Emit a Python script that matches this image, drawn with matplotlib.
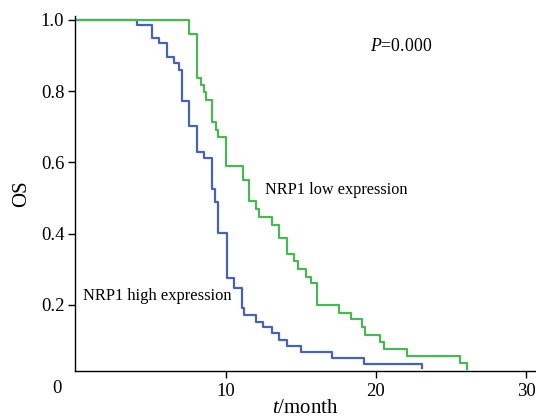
"""Kaplan-Meier style OS curves for NRP1 high / low expression."""

import matplotlib

matplotlib.use("Agg")
import matplotlib.pyplot as plt

# step curves (time in months, survival after the step)
high_t = [0, 4.08, 5.08, 5.58, 6.07, 6.58, 6.87, 7.06, 7.56, 8.06, 8.58, 9.08, 9.29,
          9.51, 10.07, 10.57, 11.06, 11.22, 12.0, 12.5, 13.06, 13.57, 14.06, 15.01,
          17.05, 19.22, 23.04]
high_s = [1.0, 0.985, 0.948, 0.934, 0.895, 0.880, 0.859, 0.772, 0.701, 0.630, 0.613,
          0.526, 0.490, 0.403, 0.277, 0.247, 0.191, 0.172, 0.153, 0.139, 0.121, 0.102,
          0.085, 0.069, 0.050, 0.034, 0.022]

low_t = [0, 7.58, 8.07, 8.39, 8.56, 8.66, 9.06, 9.35, 9.49, 10.02, 11.15, 11.57, 12.04,
         12.25, 13.06, 13.57, 14.06, 14.54, 14.84, 15.36, 15.68, 16.05, 17.56, 18.36,
         19.07, 19.25, 20.27, 20.51, 22.04, 25.61, 26.03]
low_s = [1.0, 0.960, 0.836, 0.817, 0.796, 0.776, 0.712, 0.692, 0.672, 0.590, 0.550,
         0.493, 0.468, 0.446, 0.424, 0.387, 0.343, 0.322, 0.300, 0.279, 0.261, 0.199,
         0.178, 0.160, 0.137, 0.116, 0.097, 0.076, 0.057, 0.036, 0.020]

x_ticks = [10, 20, 30]
y_ticks = [0.2, 0.4, 0.6, 0.8, 1.0]

plt.rcParams["font.family"] = ["Liberation Serif", "DejaVu Serif"]
plt.rcParams["mathtext.fontset"] = "custom"
plt.rcParams["mathtext.rm"] = "Liberation Serif"
plt.rcParams["mathtext.it"] = "Liberation Serif:italic"

fig = plt.figure(figsize=(5.36, 4.19), dpi=100)
ax = fig.add_axes([0.1407, 0.1134, 0.8593, 0.848])

ax.step(high_t, high_s, where="post", color="#4a63ae", lw=1.6)
ax.step(low_t, low_s, where="post", color="#4cb556", lw=1.6)

ax.set_xlim(0, 30.65)
ax.set_ylim(0.0135, 1.01)
ax.set_xticks(x_ticks)
ax.set_yticks(y_ticks)
ax.set_yticklabels([f"{v:.1f}" for v in y_ticks])
ax.tick_params(direction="out", length=5, width=1, colors="black", labelsize=13.5)
ax.tick_params(axis="y", pad=3)
for side in ("top", "right"):
    ax.spines[side].set_visible(False)
for side in ("left", "bottom"):
    ax.spines[side].set_linewidth(1.0)
    ax.spines[side].set_color("black")

# lone "0" at the origin, set left of the corner like the source
ax.annotate("0", xy=(0, 0), xycoords="axes fraction", xytext=(-13.2, -12.5),
            textcoords="offset points", ha="center", va="center", fontsize=13.5)

ax.set_xlabel("$t$/month", fontsize=15, labelpad=-1)
ax.set_ylabel("OS", fontsize=15, labelpad=7)

ax.text(19.6, 0.924, "$P$=0.000", fontsize=12.8, va="center")
ax.text(12.6, 0.523, "NRP1 low expression", fontsize=11.7, va="center")
ax.text(0.5, 0.225, "NRP1 high expression", fontsize=11.9, va="center")

fig.savefig("out.png", dpi=100)
